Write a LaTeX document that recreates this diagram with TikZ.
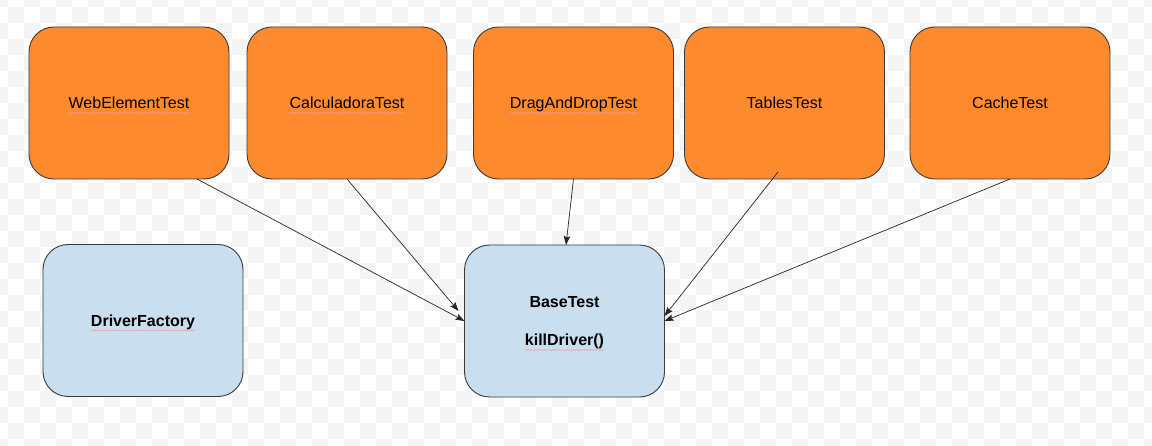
\documentclass[tikz,border=0pt]{standalone}
\usepackage{fontspec}
\setmainfont{Liberation Sans}
\usetikzlibrary{arrows.meta,decorations.pathmorphing}
\definecolor{boxorange}{HTML}{FE8A2E}
\definecolor{boxblue}{HTML}{C9DEEE}
\definecolor{edgegray}{HTML}{3A3A3A}
\definecolor{checkgray}{HTML}{F4F4F4}
\definecolor{spellred}{HTML}{EE9AAA}
\tikzset{
  testbox/.style={draw=edgegray, line width=0.9pt, fill=boxorange, rounded corners=25pt,
    minimum width=200pt, minimum height=152pt, inner sep=0pt, outer sep=0pt},
  basebox/.style={testbox, fill=boxblue},
  boxtext/.style={inner sep=0pt, outer sep=0pt, anchor=base, font=\fontsize{16}{19}\selectfont},
  boldtext/.style={boxtext, font=\fontsize{16}{19}\selectfont\bfseries},
  spell/.style={draw=spellred, line width=0.5pt, decorate,
    decoration={snake, amplitude=0.7pt, segment length=3pt}},
  link/.style={draw=black!85, line width=0.7pt, -{Stealth[length=9pt,width=6.5pt,inset=1.5pt]}},
}
\begin{document}
\begin{tikzpicture}[x=1pt,y=-1pt]
\useasboundingbox (0,0) rectangle (1152,446);
\begin{scope}
  \clip (0,0) rectangle (1152,446);
  \fill[white] (0,0) rectangle (1152,446);
  \foreach \i in {-1,1,...,71} \foreach \j in {-1,1,...,27}
    \fill[checkgray] ({8+16*\i},{7+16*\j}) rectangle ++(16,16);
  \foreach \i in {0,2,...,70} \foreach \j in {0,2,...,28}
    \fill[checkgray] ({8+16*\i},{7+16*\j}) rectangle ++(16,16);
\end{scope}

% boxes
\node[testbox] (web)    at (129,103)   {};
\node[testbox] (calc)   at (347,103)   {};
\node[testbox] (drag)   at (573.5,103) {};
\node[testbox] (tables) at (784.5,103) {};
\node[testbox] (cache)  at (1010,103)  {};
\node[basebox] (factory) at (143,320.5) {};
\node[basebox] (base)    at (564.5,321) {};

% texts
\node[boxtext] (webt)    at (129,109)   {WebElementTest};
\node[boxtext] (calct)   at (347,109)   {CalculadoraTest};
\node[boxtext] (dragt)   at (573.5,109) {DragAndDropTest};
\node[boxtext] (tablest) at (784.5,109) {TablesTest};
\node[boxtext] (cachet)  at (1010,109)  {CacheTest};
\node[boldtext] (factoryt) at (143,326.5) {DriverFactory};
\node[boldtext] (baset)    at (564.5,308) {BaseTest};
\node[boldtext] (killt)    at (564.5,346) {killDriver()};

% spell-check underlines
\foreach \t in {webt,calct,dragt,factoryt,killt}
  \draw[spell] ([yshift=-4pt]\t.base west) -- ([yshift=-4pt]\t.base east);

% connectors
\draw[link] ([xshift=68pt]web.south) -- (base.west);
\draw[link] (calc.south) -- ([xshift=-6pt,yshift=10pt]base.west);
\draw[link] (drag.south) -- ([xshift=1.5pt]base.north);
\draw[link] ([xshift=-6.5pt,yshift=7pt]tables.south) -- ([yshift=5pt]base.east);
\draw[link] (cache.south) -- (base.east);
\end{tikzpicture}
\end{document}
